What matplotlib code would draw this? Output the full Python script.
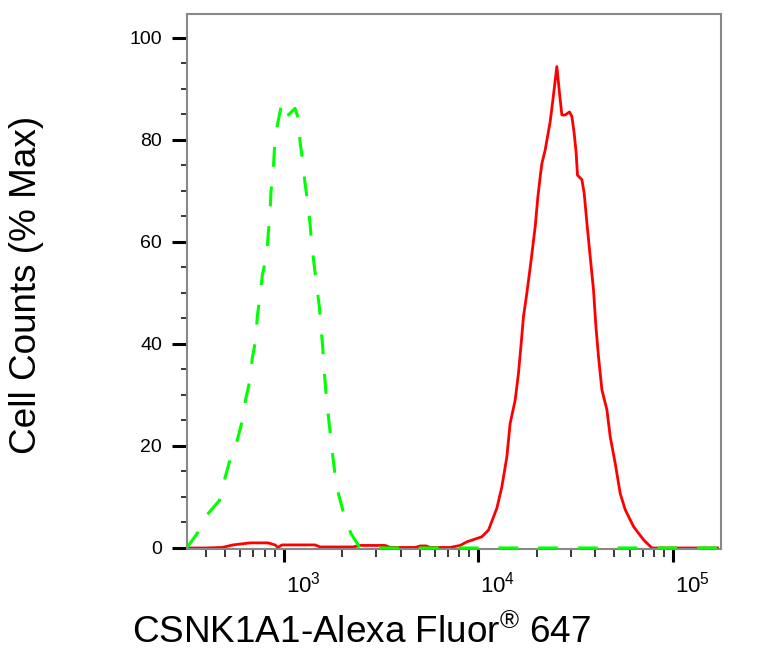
import numpy as np
import matplotlib
matplotlib.use("Agg")
import matplotlib.pyplot as plt
from matplotlib.ticker import FixedLocator, LogLocator, MultipleLocator, FuncFormatter, NullFormatter
import matplotlib.transforms as mtransforms

# isotype control (green, dashed)
ctrl_x = [318, 358, 411, 468, 500, 531, 579, 614, 639, 673, 691, 722, 733, 757, 778,
          820, 835, 852, 862, 886, 897, 923, 979, 1039, 1146, 1191, 1216, 1255,
          1290, 1332, 1368, 1396, 1440, 1482, 1528, 1559, 1591, 1615, 1648, 1687,
          1734, 1782, 1840, 1913, 2047, 2216, 2473, 170000]
ctrl_y = [0.0, 2.7, 6.8, 9.3, 13.7, 17.3, 21.2, 25.0, 29.2, 33.0, 37.2, 41.1, 45.4,
          49.3, 53.5, 57.5, 61.7, 65.6, 69.9, 74.1, 78.0, 82.3, 87.2, 84.6, 86.2,
          84.2, 79.7, 75.7, 71.5, 67.6, 63.7, 59.4, 55.2, 51.2, 47.3, 43.1, 39.2,
          35.2, 31.0, 27.1, 22.8, 18.7, 14.3, 10.7, 6.5, 2.9, 0.0, 0.0]

# CSNK1A1 stained sample (red, solid)
samp_x = [318, 395, 483, 550, 673, 832, 904, 937, 982, 1452, 1541, 2277, 2473,
          3325, 3529, 4745, 5033, 5404, 5665, 7178, 8081, 8748, 10450, 11300,
          12480, 13240, 14050, 14600, 15500, 16120, 16640, 17100, 17800, 18730,
          19640, 20280, 20840, 21260, 22100, 22710, 23450, 24210, 25380, 26180,
          26930, 28000, 29470, 30320, 31160, 31900, 32390, 34140, 35080, 36220,
          37660, 39160, 40290, 41550, 43250, 45890, 47720, 50620, 53700, 57000,
          62880, 70780, 78180, 170000]
samp_y = [0.0, 0.0, 0.1, 0.6, 1.0, 1.0, 0.6, 0.1, 0.6, 0.6, 0.2, 0.2, 0.5,
          0.5, 0.1, 0.1, 0.4, 0.4, 0.1, 0.1, 0.5, 1.2, 2.2, 3.5,
          7.8, 12.0, 17.9, 24.4, 29.0, 34.3, 40.1, 45.4, 50.0, 56.5,
          63.0, 68.9, 72.8, 75.4, 78.0, 80.6, 83.6, 87.8, 94.4, 89.2,
          84.9, 84.9, 85.5, 84.6, 81.3, 77.4, 73.1, 72.2, 69.5, 63.7,
          57.1, 50.6, 43.4, 37.5, 31.0, 27.1, 21.8, 16.6, 10.7, 7.5,
          4.2, 1.6, 0.0, 0.0]

x_label = "CSNK1A1-Alexa Fluor$^{®}$ 647"
y_label = "Cell Counts (% Max)"

plt.rcParams["font.family"] = ["Liberation Sans", "DejaVu Sans"]
plt.rcParams["mathtext.default"] = "regular"

fig = plt.figure(figsize=(7.78, 6.62), dpi=100)
W, H = 778, 662
left, right, top, bottom = 186.7, 721, 13.5, 549
ax = fig.add_axes([left / W, 1 - bottom / H, (right - left) / W, (bottom - top) / H])

ax.plot(samp_x, samp_y, color="#ff0000", lw=2.0, zorder=2)
ax.plot(ctrl_x, ctrl_y, color="#00ff00", lw=2.2, dashes=(6.5, 6.5), zorder=3)

ax.set_xscale("log")
ax.set_xlim(318, 177000)
ax.set_ylim(-0.2, 104.8)

ax.xaxis.set_major_locator(FixedLocator([1e3, 1e4, 1e5]))
ax.xaxis.set_minor_locator(LogLocator(base=10, subs=np.arange(2, 10)))
ax.xaxis.set_major_formatter(FuncFormatter(lambda v, p: r"$\mathregular{10^{%d}}$" % round(np.log10(v))))
ax.xaxis.set_minor_formatter(NullFormatter())
ax.yaxis.set_major_locator(MultipleLocator(20))
ax.yaxis.set_minor_locator(MultipleLocator(5))

for s in ax.spines.values():
    s.set_color("#888888")
    s.set_linewidth(1.5)

ax.tick_params(axis="both", which="major", direction="out", color="black")
ax.tick_params(axis="x", which="major", length=9.5, width=2.2, pad=6.5, labelsize=16)
ax.tick_params(axis="x", which="minor", length=5.5, width=1.1, direction="out")
ax.tick_params(axis="y", which="major", length=10.8, width=2.2, pad=7, labelsize=14)
ax.tick_params(axis="y", which="minor", length=4.3, width=1.1, direction="out")

offset = mtransforms.ScaledTranslation(0.02, 0, fig.dpi_scale_trans)
for lbl in ax.get_xticklabels():
    lbl.set_horizontalalignment("left")
    lbl.set_transform(lbl.get_transform() + offset)

ax.set_xlabel(x_label, fontsize=26.6)
ax.xaxis.set_label_coords(0.328, -0.1755)
ax.xaxis.label.set_va("baseline")
ax.set_ylabel(y_label, fontsize=26.6)
ax.yaxis.set_label_coords(-0.30, 0.493)
ax.yaxis.label.set_va("center")

fig.savefig("out.png", dpi=100)
